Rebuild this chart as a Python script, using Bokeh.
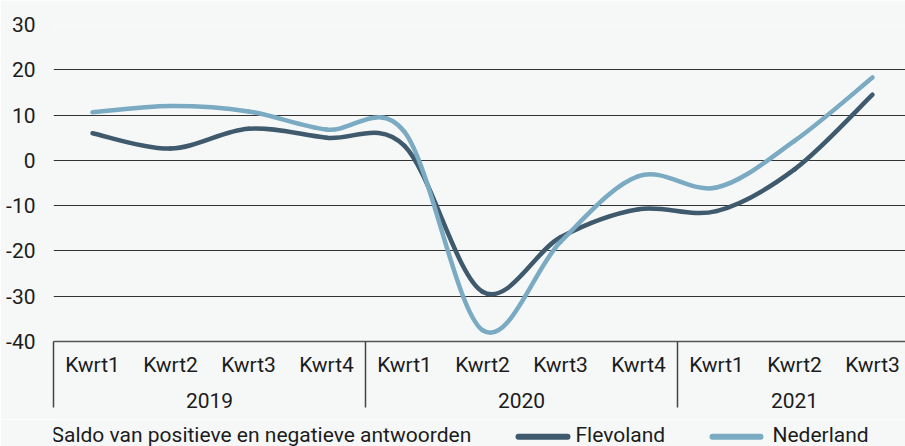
from bokeh.plotting import figure
from bokeh.models import Range1d, LinearAxis, FixedTicker
from bokeh.core.properties import value
from bokeh.layouts import column
from bokeh.embed import file_html
from bokeh.resources import INLINE
import numpy as np

# ---- data ----
quarters = ["Kwrt1", "Kwrt2", "Kwrt3", "Kwrt4",
            "Kwrt1", "Kwrt2", "Kwrt3", "Kwrt4",
            "Kwrt1", "Kwrt2", "Kwrt3"]
years = ["2019", "2020", "2021"]
year_sizes = [4, 4, 3]
flevoland = [6.0, 2.6, 7.0, 5.0, 3.2, -29.0, -17.0, -10.8, -11.2, -2.0, 14.5]
nederland = [10.6, 12.0, 10.8, 6.8, 6.3, -37.5, -18.0, -3.5, -6.0, 4.3, 18.3]
y_ticks = [-40, -30, -20, -10, 0, 10, 20, 30]
legend_title = "Saldo  van positieve en negatieve antwoorden"
series_names = ["Flevoland", "Nederland"]

BG = "#F6F8F8"
C_FLEVO = "#3F5A6C"
C_NED = "#7BAAC3"
TXT = "#1c1c1c"
FONT = "Roboto"
FS = "21px"

W = 905
H1 = 419
H2 = 446 - H1
LEFT, TOP, FRAME_H = 53, 24, 317
CAT_W = 78.0

idx = np.arange(len(quarters), dtype=float)

p = figure(width=W, height=H1, output_backend="svg", toolbar_location=None, tools="",
           x_range=Range1d(-0.5, -0.5 + (W - LEFT) / CAT_W), y_range=Range1d(-40, 30),
           x_axis_type=None, min_border_left=LEFT, min_border_right=0,
           min_border_top=TOP, min_border_bottom=H1 - TOP - FRAME_H)
p.background_fill_color = BG
p.border_fill_color = BG
p.outline_line_color = None

# y axis
p.yaxis.ticker = FixedTicker(ticks=y_ticks)
p.yaxis.major_label_overrides = {t: str(t) for t in y_ticks}
p.yaxis.axis_line_color = None
p.yaxis.major_tick_line_color = None
p.yaxis.minor_tick_line_color = None
p.yaxis.major_label_standoff = 12
p.yaxis.major_label_text_font = FONT
p.yaxis.major_label_text_font_size = FS
p.yaxis.major_label_text_color = TXT
p.ygrid.ticker = FixedTicker(ticks=y_ticks)
p.ygrid.grid_line_color = "#333333"
p.ygrid.grid_line_width = 1

# group boundaries
bounds = list(np.cumsum([0] + year_sizes) - 0.5)
year_centers = [(bounds[i] + bounds[i + 1]) / 2 for i in range(len(years))]

# quarter axis; group separators drawn as long minor ticks
ax1 = LinearAxis(ticker=FixedTicker(ticks=list(idx), minor_ticks=bounds[:-1]),
                 major_label_overrides={float(i): q for i, q in zip(idx, quarters)})
ax1.axis_line_color = "#555555"
ax1.axis_line_width = 1.5
ax1.major_tick_line_color = None
ax1.major_tick_out = 0
ax1.major_tick_in = 0
ax1.minor_tick_in = -66
ax1.minor_tick_out = 0
ax1.minor_tick_line_color = "#444444"
ax1.minor_tick_line_width = 1.5
ax1.major_label_standoff = 11
ax1.major_label_text_font = FONT
ax1.major_label_text_font_size = FS
ax1.major_label_text_color = TXT
p.add_layout(ax1, "below")

ax2 = LinearAxis(ticker=FixedTicker(ticks=year_centers, minor_ticks=[]),
                 major_label_overrides={float(c): y for c, y in zip(year_centers, years)})
ax2.axis_line_color = None
ax2.major_tick_line_color = None
ax2.major_tick_out = 0
ax2.major_tick_in = 0
ax2.minor_tick_line_color = None
ax2.major_label_standoff = 13
ax2.major_label_text_font = FONT
ax2.major_label_text_font_size = FS
ax2.major_label_text_color = TXT
p.add_layout(ax2, "below")


def smooth_segments(xs, ys):
    xs = np.asarray(xs, dtype=float)
    ys = np.asarray(ys, dtype=float)
    n = len(xs)
    px = np.concatenate([[xs[0]], xs, [xs[-1]]])
    py = np.concatenate([[ys[0]], ys, [ys[-1]]])
    out = {k: [] for k in ["x0", "y0", "x1", "y1", "cx0", "cy0", "cx1", "cy1"]}
    for i in range(n - 1):
        a, b, c, d = i, i + 1, i + 2, i + 3
        out["x0"].append(px[b]); out["y0"].append(py[b])
        out["x1"].append(px[c]); out["y1"].append(py[c])
        out["cx0"].append(px[b] + (px[c] - px[a]) / 6)
        out["cy0"].append(py[b] + (py[c] - py[a]) / 6)
        out["cx1"].append(px[c] - (px[d] - px[b]) / 6)
        out["cy1"].append(py[c] - (py[d] - py[b]) / 6)
    return out


colors = [C_FLEVO, C_NED]
for vals, col in zip([flevoland, nederland], colors):
    seg = smooth_segments(idx, vals)
    p.bezier(line_color=col, line_width=4.5, line_cap="round", **seg)

# ---- legend strip (x range in page pixels; frame aligned with the chart frame) ----
p2 = figure(width=W, height=H2, output_backend="svg", toolbar_location=None, tools="",
            x_axis_type=None, y_axis_type=None, x_range=Range1d(LEFT, W), y_range=Range1d(0, H2),
            min_border=0, min_border_left=LEFT, min_border_right=0,
            min_border_top=0, min_border_bottom=0)
p2.background_fill_color = BG
p2.border_fill_color = BG
p2.outline_line_color = None
p2.xgrid.visible = False
p2.ygrid.visible = False

swatch_x0 = [518, 712]
swatch_x1 = [567, 760]
swatch_y = 9.7
p2.segment(x0=swatch_x0, x1=swatch_x1, y0=[swatch_y] * 2, y1=[swatch_y] * 2,
           line_color=colors, line_width=6, line_cap="round")
p2.text(x=[51, 575, 772], y=[12, 12, 12], text=[legend_title] + series_names,
        text_font=value(FONT), text_font_size=value(FS), text_color=TXT,
        text_baseline="middle", text_align="left")

layout = column(p, p2, spacing=0)
open("out.html", "w").write(file_html(layout, INLINE))
